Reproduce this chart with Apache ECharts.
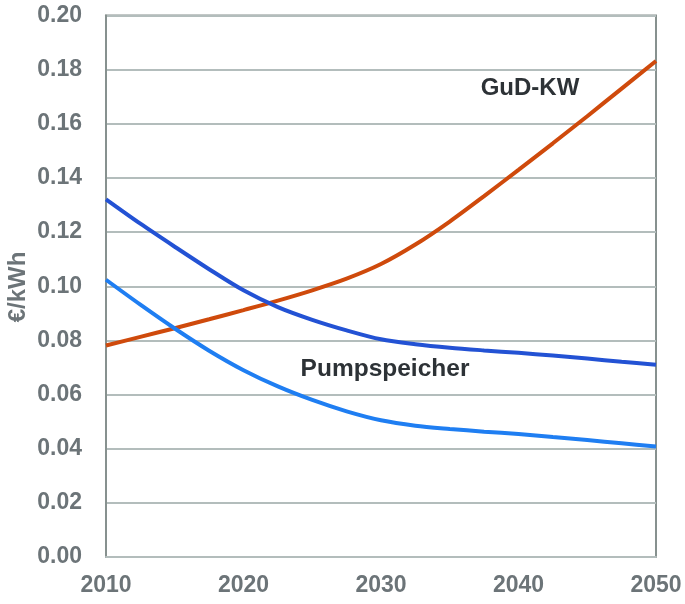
<!DOCTYPE html>
<html>
<head>
<meta charset="utf-8">
<script src="https://cdn.jsdelivr.net/npm/echarts@6/dist/echarts.min.js"></script>
<style>html,body{margin:0;padding:0;background:#fff}#c{width:685px;height:604px}</style>
</head>
<body>
<div id="c"></div>
<script>
var years = [2010, 2012.5, 2015, 2017.5, 2020, 2022.5, 2025, 2027.5, 2030, 2032.5, 2035, 2037.5, 2040, 2042.5, 2045, 2047.5, 2050];
var gudKW = [0.0781, 0.0813, 0.0845, 0.0878, 0.0912, 0.0947, 0.0985, 0.1028, 0.1082, 0.1154, 0.1239, 0.1333, 0.1430, 0.1528, 0.1628, 0.1730, 0.1832];
var pumpHigh = [0.1321, 0.1231, 0.1146, 0.1063, 0.0985, 0.0923, 0.0876, 0.0837, 0.0804, 0.0786, 0.0773, 0.0763, 0.0754, 0.0744, 0.0733, 0.0721, 0.0710];
var pumpLow = [0.1024, 0.0932, 0.0844, 0.0762, 0.0690, 0.0630, 0.0580, 0.0538, 0.0505, 0.0485, 0.0473, 0.0463, 0.0454, 0.0443, 0.0432, 0.0420, 0.0408];
var yTicks = [0.00, 0.02, 0.04, 0.06, 0.08, 0.10, 0.12, 0.14, 0.16, 0.18, 0.20];
var xTicks = [2010, 2020, 2030, 2040, 2050];
var unitLabel = '€/kWh';
var labelGuD = 'GuD-KW';
var labelPump = 'Pumpspeicher';

function pairs(xs, ys) { return xs.map(function (x, i) { return [x, ys[i]]; }); }

var chart = echarts.init(document.getElementById('c'), null, { renderer: 'canvas' });
var labelColor = '#6c7478';
var gridColor = '#b3bdbc';
var axisColor = '#87918f';
var fontFam = "'Liberation Sans', Arial, sans-serif";

chart.setOption({
  animation: false,
  backgroundColor: '#ffffff',
  grid: { left: 106, right: 29, top: 15.5, bottom: 47, show: true, borderColor: axisColor, borderWidth: 2 },
  xAxis: {
    type: 'value', min: xTicks[0], max: xTicks[xTicks.length - 1], interval: 10,
    axisLine: { show: true, lineStyle: { color: gridColor, width: 2 } },
    axisTick: { show: false },
    splitLine: { show: false },
    axisLabel: {
      margin: 17, color: labelColor, fontSize: 23, fontWeight: 'bold', fontFamily: fontFam,
      formatter: function (v) { return String(v); }
    }
  },
  yAxis: {
    type: 'value', min: yTicks[0], max: yTicks[yTicks.length - 1], interval: 0.02,
    axisLine: { show: true, lineStyle: { color: axisColor, width: 2 } },
    axisTick: { show: false },
    splitLine: { show: true, lineStyle: { color: gridColor, width: 2 } },
    axisLabel: {
      margin: 24, color: labelColor, fontSize: 23, fontWeight: 'bold', fontFamily: fontFam,
      formatter: function (v) { return v.toFixed(2); }
    }
  },
  graphic: [
    { type: 'text', x: 18, y: 287, rotation: Math.PI / 2,
      style: { text: unitLabel, fill: labelColor, font: "bold 24px " + fontFam, textAlign: 'center', textVerticalAlign: 'middle' } },
    { type: 'text', x: 530, y: 88,
      style: { text: labelGuD, fill: '#2d3236', font: "bold 24px " + fontFam, textAlign: 'center', textVerticalAlign: 'middle' } },
    { type: 'text', x: 385, y: 369,
      style: { text: labelPump, fill: '#2d3236', font: "bold 24.5px " + fontFam, textAlign: 'center', textVerticalAlign: 'middle' } }
  ],
  series: [
    { name: labelGuD, type: 'line', data: pairs(years, gudKW), smooth: 0.3, showSymbol: false,
      lineStyle: { color: '#cf4a0c', width: 4 }, z: 3 },
    { name: labelPump + ' 1', type: 'line', data: pairs(years, pumpHigh), smooth: 0.3, showSymbol: false,
      lineStyle: { color: '#2352d4', width: 4 }, z: 4 },
    { name: labelPump + ' 2', type: 'line', data: pairs(years, pumpLow), smooth: 0.3, showSymbol: false,
      lineStyle: { color: '#1f7ef2', width: 4 }, z: 4 }
  ]
});
</script>
</body>
</html>
